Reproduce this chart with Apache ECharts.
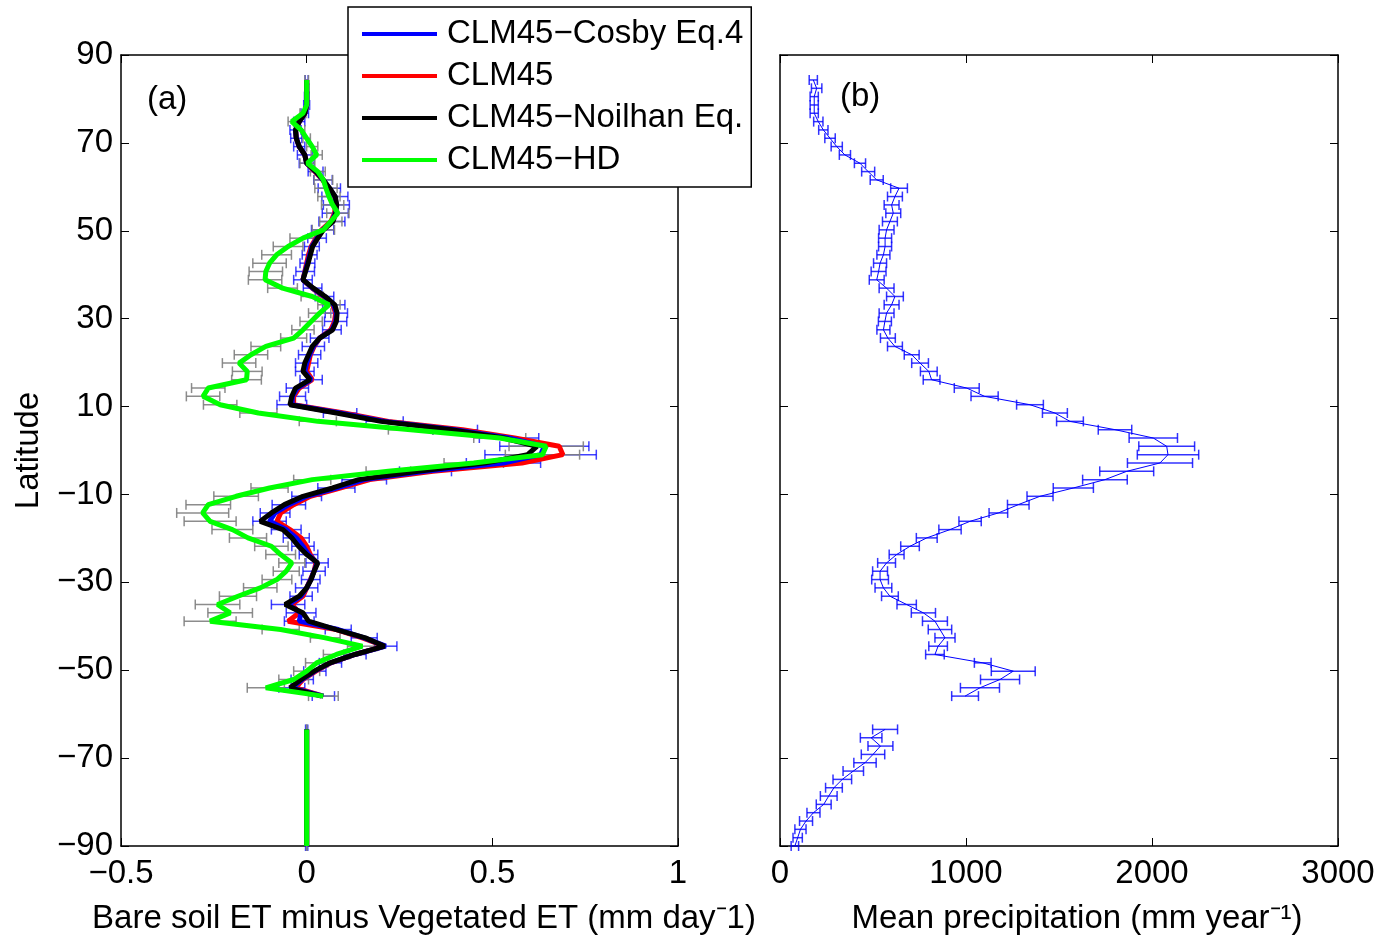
<!DOCTYPE html>
<html><head><meta charset="utf-8">
<script src="https://cdn.jsdelivr.net/npm/echarts@6/dist/echarts.min.js"></script>
<style>html,body{margin:0;padding:0;background:#fff}#c{width:1385px;height:938px}</style>
</head><body><div id="c"></div>
<script>
// Latitude grid (degrees)
const lats = [-90.00,-88.11,-86.21,-84.32,-82.42,-80.53,-78.63,-76.74,-74.84,-72.95,
 -71.05,-69.16,-67.26,-65.37,-63.47,-61.58,-59.68,-57.79,-55.89,-54.00,
 -52.11,-50.21,-48.32,-46.42,-44.53,-42.63,-40.74,-38.84,-36.95,-35.05,
 -33.16,-31.26,-29.37,-27.47,-25.58,-23.68,-21.79,-19.89,-18.00,-16.11,
 -14.21,-12.32,-10.42,-8.53,-6.63,-4.74,-2.84,-0.95,0.95,2.84,
 4.74,6.63,8.53,10.42,12.32,14.21,16.11,18.00,19.89,21.79,
 23.68,25.58,27.47,29.37,31.26,33.16,35.05,36.95,38.84,40.74,
 42.63,44.53,46.42,48.32,50.21,52.11,54.00,55.89,57.79,59.68,
 61.58,63.47,65.37,67.26,69.16,71.05,72.95,74.84,76.74,78.63,
 80.53,82.42,84.32];

// Bare soil ET minus vegetated ET (mm/day)
const cosby = [0,0,0,0,0,0,0,0,0,0,
 0,0,0,0,0,null,null,null,0.045,-0.04,
 -0.012,0.022,0.064,0.13,0.213,0.155,0.085,-0.02,-0.015,-0.05,
 -0.015,0.0,0.011,0.02,0.028,0.005,-0.01,-0.028,-0.055,-0.1,
 -0.085,-0.048,0.0,0.08,0.155,0.32,0.53,0.63,0.64,0.545,
 0.4,0.21,0.09,-0.04,-0.038,-0.025,0.012,-0.005,0.0,0.008,
 0.018,0.035,0.068,0.078,0.08,0.073,0.048,0.016,-0.01,-0.004,
 0.002,0.008,0.014,0.028,0.043,0.068,0.077,0.08,0.076,0.061,
 0.044,0.024,0.0,-0.005,-0.02,-0.028,-0.03,-0.02,-0.005,0,
 0,0,0];
const clm45 = [0,0,0,0,0,0,0,0,0,0,
 0,0,0,0,0,null,null,null,0.045,-0.03,
 -0.01,0.025,0.065,0.13,0.21,0.15,0.08,-0.05,-0.02,-0.04,
 -0.01,0.0,0.01,0.02,0.025,0.01,0.0,-0.015,-0.045,-0.08,
 -0.07,-0.035,0.01,0.09,0.17,0.34,0.58,0.69,0.68,0.56,
 0.42,0.22,0.1,-0.035,-0.035,-0.02,0.015,0.0,0.005,0.01,
 0.02,0.035,0.065,0.075,0.078,0.07,0.045,0.015,-0.01,-0.005,
 0.0,0.005,0.012,0.025,0.04,0.065,0.075,0.078,0.075,0.06,
 0.043,0.022,0.0,-0.005,-0.02,-0.028,-0.03,-0.02,-0.005,0,
 0,0,0];
const noilhan = [0,0,0,0,0,0,0,0,0,0,
 0,0,0,0,0,null,null,null,0.04,-0.045,
 -0.015,0.02,0.063,0.13,0.21,0.158,0.08,0.005,-0.01,-0.058,
 -0.02,0.0,0.012,0.02,0.03,0.0,-0.022,-0.04,-0.064,-0.125,
 -0.095,-0.06,-0.01,0.07,0.14,0.3,0.48,0.595,0.62,0.53,
 0.39,0.2,0.08,-0.045,-0.04,-0.03,0.009,-0.01,-0.005,0.005,
 0.015,0.035,0.07,0.08,0.082,0.076,0.05,0.018,-0.01,-0.003,
 0.004,0.01,0.016,0.03,0.045,0.071,0.078,0.081,0.077,0.062,
 0.045,0.025,0.0,-0.005,-0.02,-0.028,-0.03,-0.02,-0.005,0,
 0,0,0];
const hd = [0,0,0,0,0,0,0,0,0,0,
 0,0,0,0,0,null,null,null,0.045,-0.11,
 -0.035,0.0,0.027,0.08,0.15,0.05,-0.07,-0.26,-0.206,-0.24,
 -0.185,-0.125,-0.08,-0.055,-0.04,-0.07,-0.095,-0.158,-0.2,-0.26,
 -0.28,-0.265,-0.19,-0.10,0.015,0.22,0.45,0.635,0.645,0.52,
 0.28,0.03,-0.13,-0.233,-0.279,-0.265,-0.162,-0.16,-0.182,-0.15,
 -0.11,-0.035,-0.01,0.012,0.035,0.06,0.015,-0.065,-0.112,-0.11,
 -0.1,-0.081,-0.05,-0.01,0.045,0.065,0.084,0.07,0.06,0.052,
 0.045,0.03,0.002,0.027,0.015,0.0,-0.015,-0.04,-0.01,0.0,
 0,0,0];
// error half-widths
const cosbyErr = [0.003,0.003,0.003,0.003,0.003,0.003,0.003,0.003,0.003,0.003,
 0.003,0.003,0.003,0.003,0.003,null,null,null,0.03,0.035,
 0.03,0.03,0.03,0.03,0.03,0.035,0.035,0.04,0.04,0.045,
 0.03,0.03,0.025,0.03,0.03,0.025,0.03,0.035,0.04,0.045,
 0.04,0.045,0.04,0.05,0.06,0.07,0.1,0.15,0.12,0.08,
 0.06,0.05,0.045,0.04,0.035,0.03,0.03,0.025,0.03,0.03,
 0.03,0.025,0.025,0.03,0.03,0.03,0.025,0.025,0.025,0.025,
 0.02,0.02,0.02,0.025,0.03,0.035,0.035,0.035,0.035,0.03,
 0.025,0.02,0.02,0.02,0.015,0.015,0.015,0.015,0.01,0.008,
 0.006,0.005,0.004];
const hdErr = [0,0,0,0,0,0,0,0,0,0,
 0,0,0,0,0,null,null,null,0.04,0.05,
 0.04,0.035,0.03,0.035,0.04,0.04,0.05,0.07,0.06,0.06,
 0.05,0.045,0.04,0.035,0.035,0.04,0.045,0.05,0.055,0.07,
 0.07,0.06,0.06,0.05,0.05,0.06,0.08,0.1,0.1,0.07,
 0.06,0.05,0.05,0.045,0.045,0.045,0.04,0.04,0.045,0.045,
 0.04,0.035,0.03,0.03,0.03,0.03,0.03,0.04,0.045,0.045,
 0.045,0.04,0.04,0.035,0.03,0.03,0.03,0.03,0.03,0.03,
 0.025,0.02,0.02,0.015,0.015,0.01,0.01,0.01,0.008,0.005,
 0.005,0.005,0.005];

// Mean precipitation (mm/year)
const precip = [80,95,110,140,180,235,262,290,335,394,
 457,500,540,490,565,null,null,null,995,1075,
 1183,1254,1090,833,850,887,860,833,771,681,
 591,556,538,538,573,627,699,789,914,1022,
 1174,1281,1398,1577,1747,1864,2043,2086,2079,2007,
 1801,1559,1478,1344,1100,1004,815,800,753,708,
 618,580,556,564,573,600,618,573,520,530,
 538,556,565,565,573,591,609,600,618,640,
 520,474,430,349,305,269,233,206,184,184,
 184,197,179];
const precipErr = [20,25,30,35,35,40,45,45,50,55,
 60,63,67,58,67,null,null,null,72,105,
 105,118,45,50,50,54,63,67,65,52,
 45,45,45,40,48,40,50,56,60,60,
 50,58,70,108,120,145,175,165,150,130,
 90,72,67,72,73,67,45,45,45,40,
 40,40,35,35,40,40,45,40,40,40,
 35,35,35,35,40,40,40,40,40,45,
 35,35,30,30,30,28,25,25,22,22,
 22,28,22];

const seriesNames = ['CLM45\u2212Cosby Eq.4','CLM45','CLM45\u2212Noilhan Eq.','CLM45\u2212HD'];
const xTicksA = {min:-0.5, max:1, interval:0.5};
const xTicksB = {min:0, max:3000, interval:1000};
const yTicks = {min:-90, max:90, interval:20};

const FONT = 'Liberation Sans';
const FS = 33;
const chart = echarts.init(document.getElementById('c'), null, {renderer:'canvas'});

function linePairs(vals){ return lats.map((l,i)=>[vals[i]===null?'-':vals[i], l]); }
function errTriples(vals, errs){
  const out=[]; lats.forEach((l,i)=>{ if(vals[i]!==null && errs[i]!==null) out.push([vals[i], l, errs[i]]); }); return out;
}
function errRender(color, lw){
  return function(params, api){
    const x=api.value(0), y=api.value(1), e=api.value(2);
    const a=api.coord([x-e,y]), b=api.coord([x+e,y]);
    const h=5, st={stroke:color, lineWidth:lw, fill:null};
    return {type:'group', children:[
      {type:'line', shape:{x1:a[0],y1:a[1],x2:b[0],y2:b[1]}, style:st},
      {type:'line', shape:{x1:a[0],y1:a[1]-h,x2:a[0],y2:a[1]+h}, style:st},
      {type:'line', shape:{x1:b[0],y1:b[1]-h,x2:b[0],y2:b[1]+h}, style:st}
    ]};
  };
}
const minus = v => String(v).replace('-', '\u2212');
const axLine = {show:true, onZero:false, lineStyle:{color:'#000', width:1.5}};
const axTick = {show:true, inside:true, length:8, lineStyle:{color:'#000', width:1}};
const lab = {fontSize:FS, fontFamily:FONT, color:'#000'};

function xAx(grid, ticks, pos, showLab){
  return Object.assign({type:'value', gridIndex:grid, position:pos, axisLine:axLine, axisTick:axTick,
    splitLine:{show:false},
    axisLabel: showLab ? Object.assign({margin:11, formatter:minus}, lab) : {show:false}}, ticks);
}
function yAx(grid, pos, showLab, name){
  const o = Object.assign({type:'value', gridIndex:grid, position:pos, axisLine:axLine, axisTick:axTick,
    splitLine:{show:false},
    axisLabel: showLab ? Object.assign({margin:8, formatter:minus}, lab) : {show:false}}, yTicks);
  if(name){ o.name=name; o.nameLocation='middle'; o.nameGap=76; o.nameTextStyle={fontSize:FS, fontFamily:FONT, color:'#000'}; }
  return o;
}
const lineS = (name, vals, color, w) => ({
  name, type:'line', xAxisIndex:0, yAxisIndex:0, data:linePairs(vals), symbol:'none', showSymbol:false,
  connectNulls:false, color, itemStyle:{color}, lineStyle:{color, width:w}, animation:false, z:3
});

chart.setOption({
  animation:false,
  backgroundColor:'#fff',
  grid:[{left:121, top:55, width:557, height:791}, {left:780, top:55, width:558, height:791}],
  xAxis:[xAx(0,xTicksA,'bottom',true), xAx(0,xTicksA,'top',false), xAx(1,xTicksB,'bottom',true), xAx(1,xTicksB,'top',false)],
  yAxis:[yAx(0,'left',true,'Latitude'), yAx(0,'right',false), yAx(1,'left',false), yAx(1,'right',false)],
  legend:{
    data:seriesNames, orient:'vertical', left:348, top:7, padding:[9,8,9,14],
    itemWidth:75, itemHeight:4, itemGap:6, icon:'rect', selectedMode:false,
    itemStyle:{borderWidth:0},
    backgroundColor:'#fff', borderColor:'#000', borderWidth:1.5, borderRadius:0,
    textStyle:{fontSize:FS, fontFamily:FONT, color:'#000', lineHeight:36, padding:[0,0,0,5]}, z:10
  },
  graphic:[
    {type:'text', x:147, y:100, style:{text:'(a)', fontSize:FS, fontFamily:FONT, fill:'#000', align:'left', verticalAlign:'middle'}},
    {type:'text', x:840, y:97, style:{text:'(b)', fontSize:FS, fontFamily:FONT, fill:'#000', align:'left', verticalAlign:'middle'}},
    {type:'text', x:424, y:919, style:{text:'Bare soil ET minus Vegetated ET (mm day\u207B1)', fontSize:FS, fontFamily:FONT, fill:'#000', align:'center', verticalAlign:'middle'}},
    {type:'text', x:1077, y:919, style:{text:'Mean precipitation (mm year\u207B\u00B9)', fontSize:FS, fontFamily:FONT, fill:'#000', align:'center', verticalAlign:'middle'}}
  ],
  series:[
    {type:'custom', name:'errCosby', xAxisIndex:0, yAxisIndex:0, data:errTriples(cosby,cosbyErr), encode:{x:0,y:1},
     renderItem:errRender('rgba(0,0,255,0.75)',1.5), z:1, silent:true},
    {type:'custom', name:'errHD', xAxisIndex:0, yAxisIndex:0, data:errTriples(hd,hdErr), encode:{x:0,y:1},
     renderItem:errRender('rgba(128,128,128,0.9)',1.5), z:1, silent:true},
    lineS(seriesNames[1], clm45, '#ff0000', 5),
    lineS(seriesNames[0], cosby, '#0000ff', 5),
    lineS(seriesNames[2], noilhan, '#000000', 5),
    lineS(seriesNames[3], hd, '#00ff00', 5),
    {type:'custom', name:'errP', xAxisIndex:2, yAxisIndex:2, data:errTriples(precip,precipErr), encode:{x:0,y:1},
     renderItem:errRender('rgba(0,0,255,0.8)',1.5), z:1, silent:true},
    {type:'line', name:'precip', xAxisIndex:2, yAxisIndex:2, data:linePairs(precip), symbol:'none', showSymbol:false,
     connectNulls:false, color:'#0000ff', lineStyle:{color:'#0000ff', width:1}, z:3}
  ]
});
</script></body></html>
